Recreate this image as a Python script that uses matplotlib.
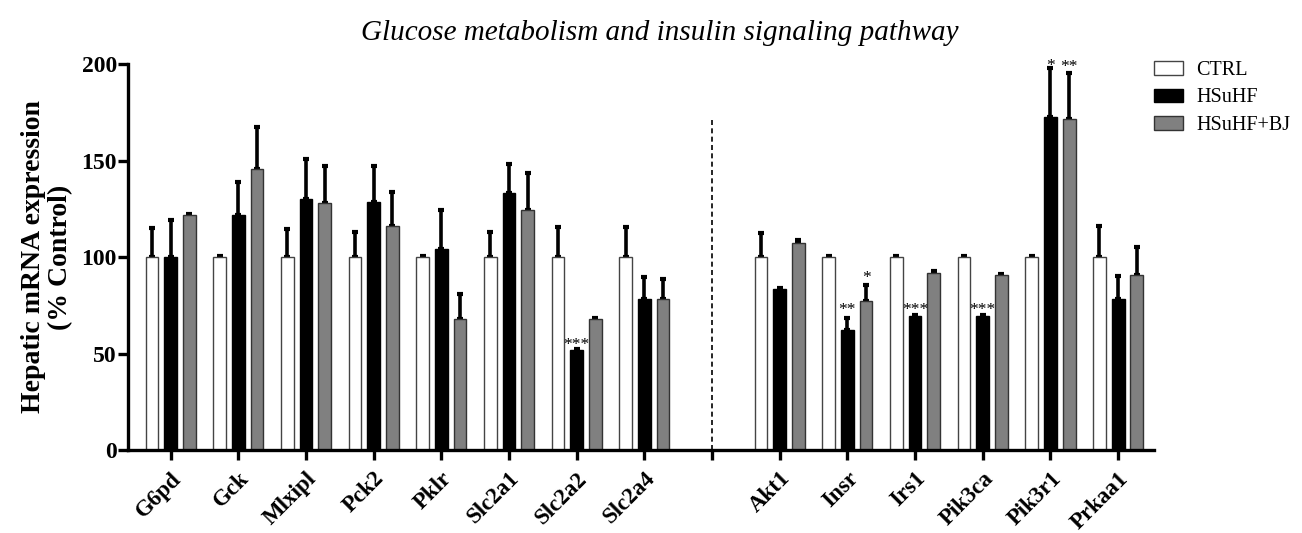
import matplotlib
matplotlib.use('Agg')
import matplotlib.pyplot as plt
import numpy as np
from matplotlib.patches import Patch

plt.rcParams['font.family'] = ['Liberation Serif', 'DejaVu Serif']

# genes (empty slot between the two panels)
genes = ['G6pd', 'Gck', 'Mlxipl', 'Pck2', 'Pklr', 'Slc2a1', 'Slc2a2', 'Slc2a4',
         '', 'Akt1', 'Insr', 'Irs1', 'Pik3ca', 'Pik3r1', 'Prkaa1']
groups = ['CTRL', 'HSuHF', 'HSuHF+BJ']

# mean values (% control)
ctrl = [100, 100, 100, 100, 100, 100, 100, 100, np.nan, 100, 100, 100, 100, 100, 100]
hsuhf = [100.1, 121.6, 130.2, 128.7, 104.2, 133.3, 51.8, 78.1, np.nan,
         83.5, 62.2, 69.6, 69.6, 172.5, 78.3]
hsuhf_bj = [121.6, 145.5, 127.8, 116.2, 67.9, 124.2, 67.7, 78.1, np.nan,
            107.2, 77.2, 91.8, 90.6, 171.3, 90.6]

# top of the error bar
ctrl_top = [115.0, 100.5, 114.3, 112.9, 100.5, 112.9, 115.8, 115.8, np.nan,
            112.6, 100.4, 100.4, 100.4, 100.4, 116.0]
hsuhf_top = [119.0, 138.9, 150.6, 147.4, 124.5, 148.1, 52.5, 89.9, np.nan,
             83.9, 68.2, 70.0, 70.0, 197.7, 90.0]
hsuhf_bj_top = [122.4, 167.4, 147.2, 133.9, 81.0, 143.4, 68.2, 88.8, np.nan,
                108.6, 85.7, 93.0, 91.4, 195.3, 105.1]

# significance marks: (gene index, group index, text, y)
stars = [(6, 1, '***', 56.6), (10, 1, '**', 74.3), (10, 2, '*', 91.3),
         (11, 1, '***', 74.8), (12, 1, '***', 74.8),
         (13, 1, '*', 201.0), (13, 2, '**', 200.7)]

fig = plt.figure(figsize=(13.02, 5.33), dpi=100)
ax = fig.add_axes([0.0983, 0.1557, 0.788, 0.7242])

x = np.arange(len(genes))
off = 0.276
w = 0.19
faces = ['white', 'black', '#808080']
edges = ['#444444', 'black', '#333333']
series = [(ctrl, ctrl_top), (hsuhf, hsuhf_top), (hsuhf_bj, hsuhf_bj_top)]

for i, (vals, tops) in enumerate(series):
    vals = np.array(vals)
    tops = np.array(tops)
    xi = x + (i - 1) * off
    ax.bar(xi, vals, width=w, color=faces[i], edgecolor=edges[i], linewidth=1.0,
           label=groups[i], zorder=2)
    ax.errorbar(xi, vals, yerr=[np.zeros_like(vals), tops - vals], fmt='none',
                ecolor='black', elinewidth=2.6, capsize=2.5, capthick=3, zorder=1)

for gi, grp, txt, yy in stars:
    ax.text(x[gi] + (grp - 1) * off, yy - 2, txt, ha='center', va='center',
            fontsize=12.5, clip_on=False)

# separator between the two panels
ax.plot([8, 8], [0, 171], color='black', lw=1.2, ls=(0, (3, 2)), zorder=1)

ax.set_xlim(-0.63, 14.53)
ax.set_ylim(0, 200)
ax.set_yticks([0, 50, 100, 150, 200])
ax.set_xticks(x)
ax.set_xticklabels(genes, rotation=45, ha='right', rotation_mode='anchor',
                   fontsize=16.5, fontweight='bold')
for lab in ax.get_yticklabels():
    lab.set_fontweight('bold')
    lab.set_fontsize(17)

for s in ['top', 'right']:
    ax.spines[s].set_visible(False)
for s in ['left', 'bottom']:
    ax.spines[s].set_linewidth(2.4)
ax.tick_params(axis='both', width=2.4, length=7, direction='out')
ax.tick_params(axis='y', pad=1)
ax.tick_params(axis='x', pad=6)

ax.set_ylabel('Hepatic mRNA expression\n(% Control)', fontsize=20,
              fontweight='bold', labelpad=6, linespacing=1.1)

fig.text(660 / 1302, 1 - 33 / 533, 'Glucose metabolism and insulin signaling pathway',
         ha='center', va='center', fontsize=21, fontstyle='italic')

handles = [Patch(facecolor=faces[i], edgecolor=edges[i], linewidth=1.0) for i in range(3)]
fig.legend(handles, groups, loc='upper left', bbox_to_anchor=(1154 / 1302, 1 - 61 / 533),
           frameon=False, fontsize=14.5, handlelength=1.45, handleheight=0.65,
           handletextpad=0.65, labelspacing=0.42, borderpad=0, borderaxespad=0)

fig.savefig('out.png', dpi=100)
